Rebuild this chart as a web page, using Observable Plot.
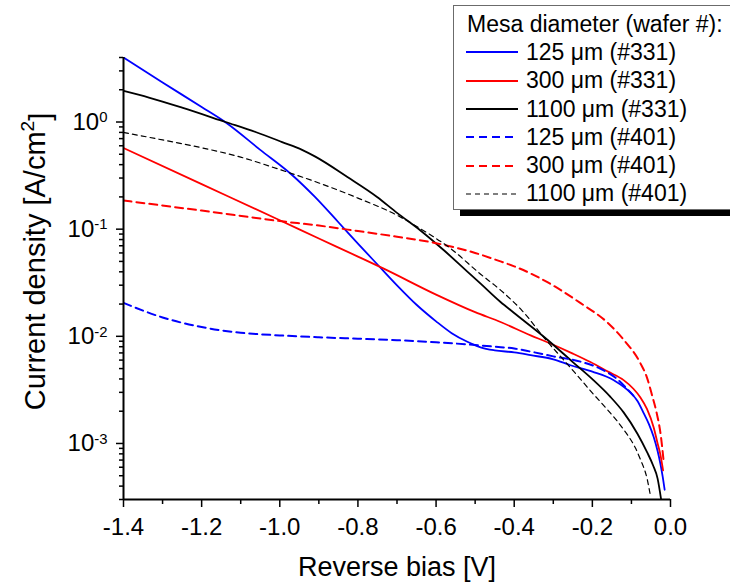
<!DOCTYPE html>
<html><head><meta charset="utf-8">
<script src="https://cdn.jsdelivr.net/npm/d3@7"></script>
<script src="https://cdn.jsdelivr.net/npm/@observablehq/plot@0.6"></script>
<style>
body{margin:0;background:#fff;}
#wrap{position:relative;width:730px;height:584px;overflow:hidden;font-family:"Liberation Sans",Arial,sans-serif;}
#legend{position:absolute;left:453px;top:5px;width:300px;height:205px;border:1px solid #6b6b6b;background:#fff;box-shadow:7px 6px 0 #000;box-sizing:border-box;padding-top:4px;font-size:23px;color:#000;}
#legend .row{height:28.3px;display:flex;align-items:center;white-space:nowrap;}
#legend .title{padding-left:13px;}
#legend svg{margin-left:12px;margin-right:8px;flex:none;}
</style></head>
<body><div id="wrap"></div>
<script>
// ---- data ----
const seriesNames = ["125 μm (#331)","300 μm (#331)","1100 μm (#331)","125 μm (#401)","300 μm (#401)","1100 μm (#401)"];
const seriesColors = ["#0000ff","#ff0000","#000000","#0000ff","#ff0000","#000000"];

const V_125_331 = [-1.40,-1.30,-1.20,-1.14,-1.05,-0.97,-0.91,-0.85,-0.80,-0.75,-0.70,-0.65,-0.60,-0.56,-0.52,-0.486,-0.45,-0.40,-0.358,-0.30,-0.256,-0.20,-0.145,-0.10,-0.085,-0.068,-0.055,-0.043,-0.033,-0.026,-0.020,-0.015];
const J_125_331 = [4.0,2.34,1.38,1.0,0.55,0.324,0.20,0.116,0.0733,0.0468,0.0299,0.0197,0.0138,0.0107,0.0089,0.0079,0.0074,0.00708,0.00667,0.0061,0.00537,0.00468,0.00389,0.00292,0.00251,0.0019,0.00151,0.00115,0.00085,0.00065,0.00049,0.00037];

const V_300_331 = [-1.40,-1.20,-1.00,-0.90,-0.80,-0.734,-0.60,-0.50,-0.435,-0.358,-0.315,-0.25,-0.205,-0.16,-0.12,-0.095,-0.077,-0.06,-0.043,-0.033,-0.026,-0.019];
const J_300_331 = [0.572,0.263,0.121,0.0818,0.0555,0.0428,0.0245,0.0168,0.0136,0.0102,0.0088,0.0069,0.00575,0.00468,0.0039,0.00324,0.00269,0.00209,0.00141,0.0010,0.00079,0.00056];

const V_1100_331 = [-1.40,-1.335,-1.25,-1.139,-1.062,-0.994,-0.943,-0.909,-0.827,-0.751,-0.70,-0.64,-0.58,-0.52,-0.486,-0.435,-0.401,-0.315,-0.25,-0.20,-0.155,-0.12,-0.085,-0.06,-0.045,-0.033,-0.024];
const J_1100_331 = [1.95,1.69,1.36,1.0,0.807,0.65,0.55,0.475,0.307,0.20,0.142,0.0973,0.0635,0.0402,0.031,0.0209,0.0166,0.0093,0.00575,0.00398,0.00275,0.00195,0.00124,0.00083,0.00063,0.00047,0.0003];

const V_125_401 = [-1.40,-1.30,-1.20,-1.10,-1.00,-0.90,-0.80,-0.70,-0.60,-0.50,-0.45,-0.40,-0.358,-0.30,-0.23,-0.18,-0.137,-0.11,-0.095];
const J_125_401 = [0.0205,0.0150,0.0122,0.0108,0.0102,0.0098,0.0095,0.0092,0.0088,0.0083,0.0080,0.0077,0.0072,0.0065,0.0058,0.0050,0.0040,0.0032,0.0028];

const V_300_401 = [-1.40,-1.20,-1.00,-0.90,-0.80,-0.70,-0.60,-0.50,-0.435,-0.40,-0.315,-0.23,-0.162,-0.12,-0.077,-0.06,-0.047,-0.035,-0.025,-0.017];
const J_300_401 = [0.185,0.149,0.119,0.108,0.096,0.085,0.074,0.060,0.050,0.045,0.032,0.0204,0.0135,0.0093,0.0056,0.0041,0.0028,0.0019,0.0012,0.00065];

const V_1100_401 = [-1.40,-1.30,-1.20,-1.10,-1.00,-0.90,-0.80,-0.70,-0.64,-0.563,-0.486,-0.435,-0.38,-0.315,-0.273,-0.24,-0.197,-0.16,-0.12,-0.09,-0.077,-0.06,-0.051];
const J_1100_401 = [0.80,0.68,0.575,0.47,0.36,0.27,0.195,0.135,0.101,0.066,0.038,0.027,0.0174,0.0089,0.0060,0.00437,0.00288,0.00204,0.00135,0.00091,0.00071,0.00047,0.00032];

const xTicks = [-1.4,-1.2,-1.0,-0.8,-0.6,-0.4,-0.2,0.0];
const xTickLabels = ["-1.4","-1.2","-1.0","-0.8","-0.6","-0.4","-0.2","0.0"];
const xMinorTicks = [-1.3,-1.1,-0.9,-0.7,-0.5,-0.3,-0.1];
const yTicks = [1e-3,1e-2,1e-1,1];
const yExponents = ["-3","-2","-1","0"];
const yMinorMultipliers = [2,3,4,5,6,7,8,9];
const xDomain = [-1.4, 0];
const yDomain = [3e-4, 4];
const xTitle = "Reverse bias [V]";
const yTitleParts = ["Current density [A/cm", "2", "]"];
const legendTitle = "Mesa diameter (wafer #):";

// ---- build table ----
const seriesV = [V_125_331,V_300_331,V_1100_331,V_125_401,V_300_401,V_1100_401];
const seriesJ = [J_125_331,J_300_331,J_1100_331,J_125_401,J_300_401,J_1100_401];
const table = seriesNames.flatMap((name,i)=>seriesV[i].map((v,k)=>({series:name,bias:v,J:seriesJ[i][k]})));
const yMinor = [];
[1e-4,1e-3,1e-2,1e-1,1].forEach(dec=>yMinorMultipliers.forEach(m=>{const t=dec*m; if(t>=yDomain[0]*0.999 && t<=yDomain[1]*1.001) yMinor.push(t);}));
const yTitleKey = yTitleParts.join("^");

const styles = [
  {w:1.8, dash:null},{w:1.8, dash:null},{w:1.8, dash:null},
  {w:2, dash:"8,5"},{w:2, dash:"8,5"},{w:1.2, dash:"5,4"}
];

const lines = seriesNames.map((name,i)=>Plot.line(table.filter(d=>d.series===name),{
  x:"bias", y:"J", stroke:seriesColors[i], strokeWidth:styles[i].w,
  strokeDasharray:styles[i].dash ?? undefined, curve:"monotone-x", clip:true
}));

const chart = Plot.plot({
  width:730, height:584,
  marginLeft:123, marginRight:60, marginTop:57, marginBottom:85,
  style:{fontFamily:'"Liberation Sans", Arial, sans-serif', color:"#000", background:"#fff"},
  x:{domain:xDomain, label:null},
  y:{type:"log", domain:yDomain, label:null},
  marks:[
    ...lines,
    Plot.axisX(xMinorTicks,{anchor:"bottom", tickSize:5, tickFormat:()=>"", strokeWidth:1.5, label:null}),
    Plot.axisX(xTicks,{anchor:"bottom", tickSize:8, tickPadding:10, tickFormat:(d)=>xTickLabels[xTicks.indexOf(d)], fontSize:24, strokeWidth:1.5, label:null}),
    Plot.axisY(yMinor,{anchor:"left", tickSize:4, tickFormat:()=>"", strokeWidth:1.5, label:null}),
    Plot.axisY(yTicks,{anchor:"left", tickSize:7, tickPadding:9, tickFormat:d=>"10^"+yExponents[yTicks.indexOf(d)], fontSize:24, strokeWidth:1.5, label:null}),
    Plot.ruleX([xDomain[0]],{strokeWidth:2}),
    Plot.ruleY([yDomain[0]],{strokeWidth:2}),
    Plot.text([xTitle],{frameAnchor:"bottom", dy:76, fontSize:27}),
    Plot.text([yTitleKey],{frameAnchor:"left", textAnchor:"middle", rotate:-90, dx:-88, dy:-17, fontSize:29})
  ]
});

// superscripts
d3.select(chart).selectAll("text").each(function(){
  const t = this.textContent;
  const sel = d3.select(this);
  if (t.startsWith("10^")) {
    const e = t.slice(3);
    sel.text("");
    sel.append("tspan").text("10");
    sel.append("tspan").attr("dy","-0.5em").attr("font-size","0.62em").text(e);
  } else if (t === yTitleKey) {
    sel.text("");
    sel.append("tspan").text(yTitleParts[0]);
    sel.append("tspan").attr("dy","-0.55em").attr("font-size","0.66em").text(yTitleParts[1]);
    sel.append("tspan").attr("dy","0.55em").text(yTitleParts[2]);
  }
});

const wrap = document.getElementById("wrap");
wrap.appendChild(chart);

// legend
const legend = document.createElement("div");
legend.id = "legend";
const tr = document.createElement("div");
tr.className = "row title"; tr.textContent = legendTitle;
legend.appendChild(tr);
seriesNames.forEach((name,i)=>{
  const row = document.createElement("div");
  row.className = "row";
  const s = d3.create("svg").attr("width",52).attr("height",10);
  s.append("line").attr("x1",0).attr("x2",52).attr("y1",5).attr("y2",5)
    .attr("stroke",seriesColors[i]).attr("stroke-width",styles[i].w)
    .attr("stroke-dasharray",styles[i].dash);
  row.appendChild(s.node());
  const sp = document.createElement("span"); sp.textContent = name;
  row.appendChild(sp);
  legend.appendChild(row);
});
wrap.appendChild(legend);
</script>
</body></html>
